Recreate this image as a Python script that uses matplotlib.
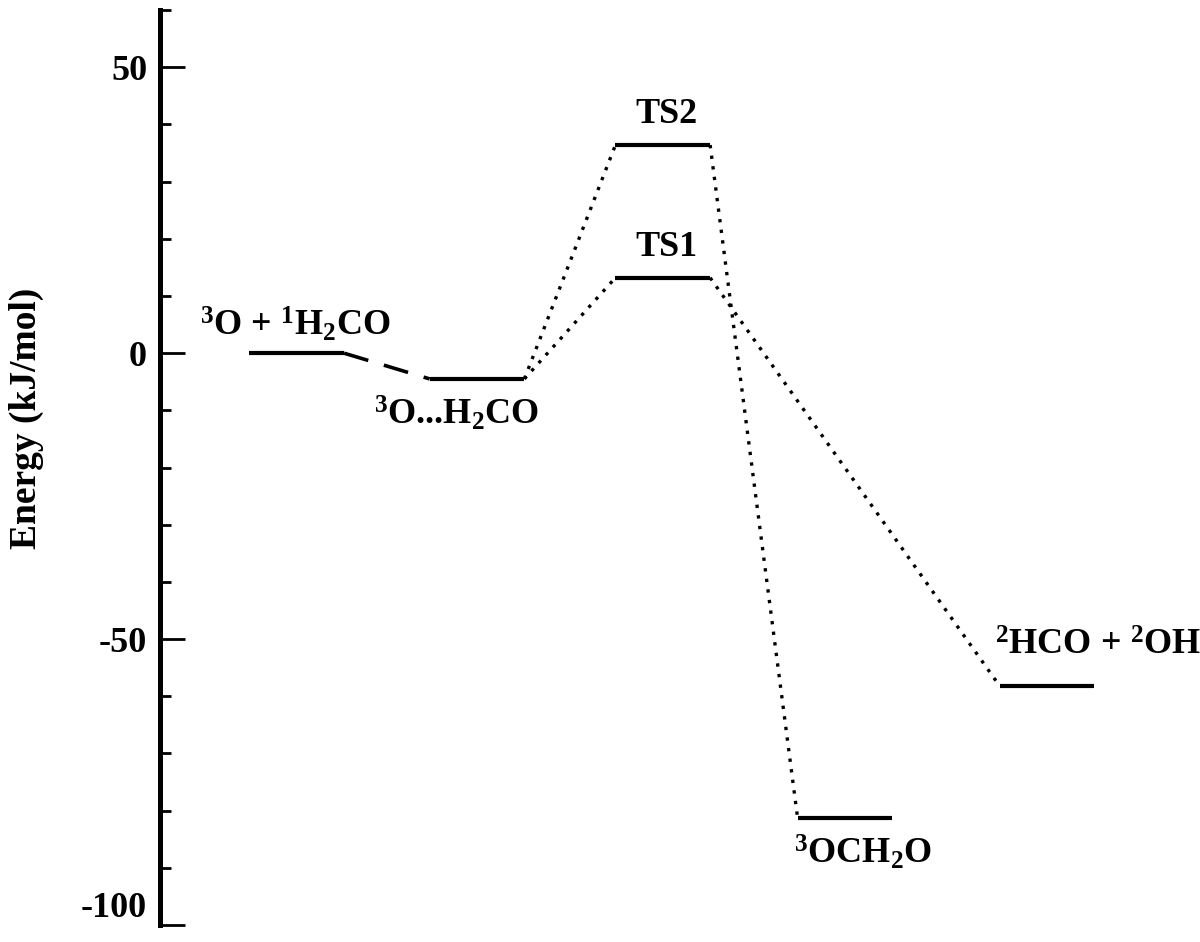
import matplotlib
matplotlib.use("Agg")
import matplotlib.pyplot as plt
from matplotlib.ticker import MultipleLocator

plt.rcParams['font.family'] = ['Liberation Serif', 'DejaVu Serif']
plt.rcParams['font.weight'] = 'bold'
plt.rcParams['axes.unicode_minus'] = False
plt.rcParams['mathtext.fontset'] = 'custom'
plt.rcParams['mathtext.rm'] = 'Liberation Serif:bold'
plt.rcParams['mathtext.it'] = 'Liberation Serif:bold'
plt.rcParams['mathtext.bf'] = 'Liberation Serif:bold'
plt.rcParams['mathtext.default'] = 'rm'

# stationary points: name, stage position, energy (kJ/mol)
names = ["R", "IM", "TS1", "TS2", "P1", "P2"]
stage = [1.0, 1.99, 3.01, 3.01, 4.01, 5.12]
energy = [0.0, -4.5, 13.2, 36.4, -81.2, -58.2]
labels = [r"$^3$O + $^1$H$_2$CO", r"$^3$O...H$_2$CO", "TS1", "TS2",
          r"$^3$OCH$_2$O", r"$^2$HCO + $^2$OH"]
label_x = [0.99, 1.88, 3.03, 3.03, 4.11, 5.40]
label_y = [5.0, -10.6, 18.5, 41.8, -87.3, -51.2]

# connections between levels: (from, to, style)
links = [(0, 1, "dashed"), (1, 2, "dotted"), (1, 3, "dotted"),
         (2, 5, "dotted"), (3, 4, "dotted")]
half = 0.26

fig = plt.figure(figsize=(12, 9.42), dpi=100)
ax = fig.add_axes([0.133, 0.018, 0.867, 0.9713])

for i in range(len(names)):
    ax.plot([stage[i] - half, stage[i] + half], [energy[i], energy[i]],
            color='black', lw=3, solid_capstyle='butt')
    ax.text(label_x[i], label_y[i], labels[i], ha='center', va='center',
            fontsize=26, fontweight='bold')

for a, b, style in links:
    x = [stage[a] + half, stage[b] - half]
    y = [energy[a], energy[b]]
    if style == "dashed":
        ax.plot(x, y, color='black', lw=2.6, dashes=(7, 4.5))
    else:
        ax.plot(x, y, color='black', lw=2.4, linestyle=(0, (1, 2.2)))

ax.set_xlim(0.247, 5.96)
ax.set_ylim(-100, 60)
ax.yaxis.set_major_locator(MultipleLocator(50))
ax.yaxis.set_minor_locator(MultipleLocator(10))
ax.set_yticks([-100, -50, 0, 50])
ax.tick_params(axis='y', which='major', direction='in', length=18, width=2,
               labelsize=26, pad=9)
ax.tick_params(axis='y', which='minor', direction='in', length=8, width=2)
ylabs = ax.get_yticklabels()
for lab in ylabs:
    lab.set_fontweight('bold')
ylabs[0].set_va('bottom')
ax.set_xticks([])
for s in ['top', 'right', 'bottom']:
    ax.spines[s].set_visible(False)
ax.spines['left'].set_linewidth(3.6)
ax.set_ylabel("Energy (kJ/mol)", fontsize=27, fontweight='bold')
ax.yaxis.set_label_coords(-0.111, 0.554)

fig.savefig("out.png", dpi=100)
